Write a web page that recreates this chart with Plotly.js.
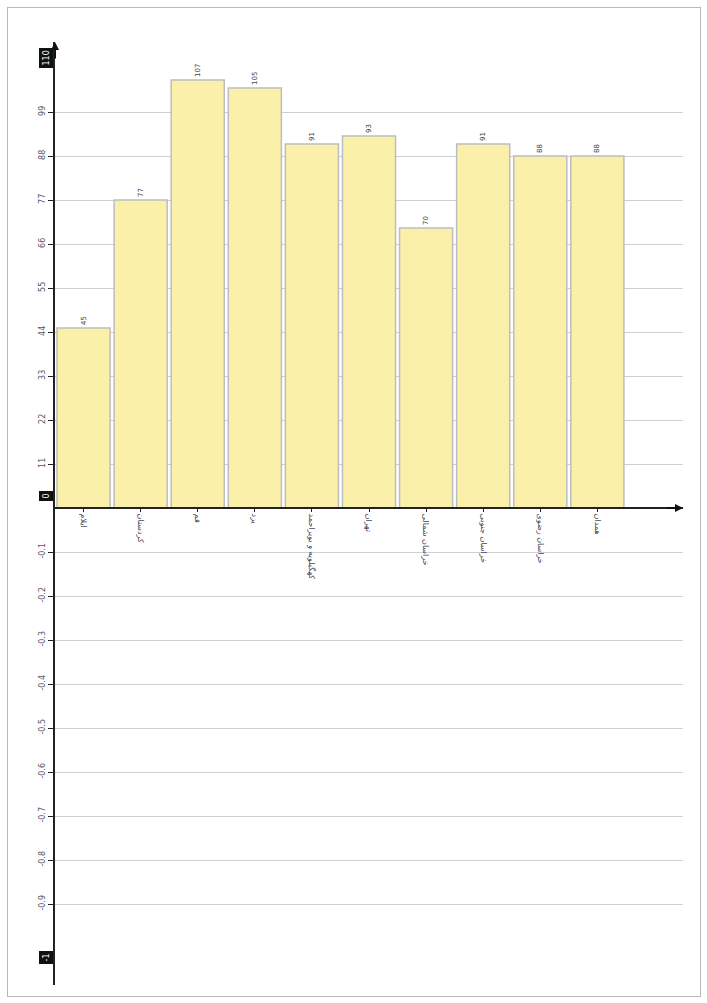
<!DOCTYPE html>
<html><head><meta charset="utf-8">
<script src="https://cdn.plot.ly/plotly-3.0.1.min.js"></script>
<style>body{margin:0;background:#fff}#frame{position:absolute;left:7px;top:7px;width:692px;height:988px;border:1px solid #b8b8b8;pointer-events:none}</style>
</head><body>
<div id="chart" style="width:707px;height:1003px"></div>
<div id="frame"></div>
<script>
const categories = ["ایلام", "کردستان", "قم", "یزد", "کهگیلویه و بویراحمد", "تهران", "خراسان شمالی", "خراسان جنوبی", "خراسان رضوی", "همدان"];
const values = [45, 77, 107, 105, 91, 93, 70, 91, 88, 88];
const posTicks = [11, 22, 33, 44, 55, 66, 77, 88, 99];
const negTicks = [-11, -22, -33, -44, -55, -66, -77, -88, -99];
const negTickText = ["-0.1", "-0.2", "-0.3", "-0.4", "-0.5", "-0.6", "-0.7", "-0.8", "-0.9"];
const boxLabels = [{v: 112.5, t: "110"}, {v: 3, t: "0"}, {v: -112.5, t: "-1"}];

const trace = {
  type: "bar", x: categories, y: values,
  text: values.map(String), textposition: "outside", textangle: -90,
  textfont: {family: "DejaVu Sans", size: 7, color: "#444"},
  marker: {color: "#faf0a9", line: {color: "#bdbdbd", width: 1.5}},
  cliponaxis: false, hoverinfo: "none"
};
const annotations = boxLabels.map(b => ({
  xref: "paper", yref: "y", x: 0, y: b.v, xanchor: "right", xshift: -2,
  text: b.t, showarrow: false, textangle: -90, bgcolor: "#111",
  font: {family: "DejaVu Sans", size: 8, color: "#fff"}, borderpad: 2
}));
annotations.push({xref: "paper", yref: "y", x: 0, y: 116.5, ax: 0, ay: 18, axref: "pixel", ayref: "pixel",
  showarrow: true, arrowhead: 2, arrowsize: 0.8, arrowwidth: 2, arrowcolor: "#111", text: ""});
annotations.push({xref: "paper", yref: "y", x: 1, y: 0, ax: -18, ay: 0,
  showarrow: true, arrowhead: 2, arrowsize: 0.8, arrowwidth: 2, arrowcolor: "#111", text: ""});

const layout = {
  width: 707, height: 1003,
  margin: {l: 55, r: 24, t: 42, b: 18},
  paper_bgcolor: "#fff", plot_bgcolor: "#fff",
  showlegend: false, bargap: 0.07,
  font: {family: "DejaVu Sans", size: 8, color: "#445"},
  xaxis: {
    type: "category", range: [-0.5, 10.5], anchor: "free", position: (985 - 508) / 943,
    showline: true, linecolor: "#222", linewidth: 2, showgrid: false, zeroline: false,
    ticks: "outside", ticklen: 3, tickcolor: "#222", tickangle: 90,
    tickfont: {family: "DejaVu Sans", size: 8, color: "#445"}
  },
  yaxis: {
    range: [-119.25, 116.5], showline: true, linecolor: "#222", linewidth: 2,
    showgrid: true, gridcolor: "#cfcfcf", gridwidth: 1,
    zeroline: false,
    tickvals: negTicks.concat(posTicks), ticktext: negTickText.concat(posTicks.map(String)),
    ticks: "outside", ticklen: 5, tickcolor: "#222", tickangle: -90,
    tickfont: {family: "DejaVu Sans", size: 8, color: "#556"}
  },
  annotations: annotations
};
Plotly.newPlot("chart", [trace], layout, {displayModeBar: false, staticPlot: true});
</script>
</body></html>
